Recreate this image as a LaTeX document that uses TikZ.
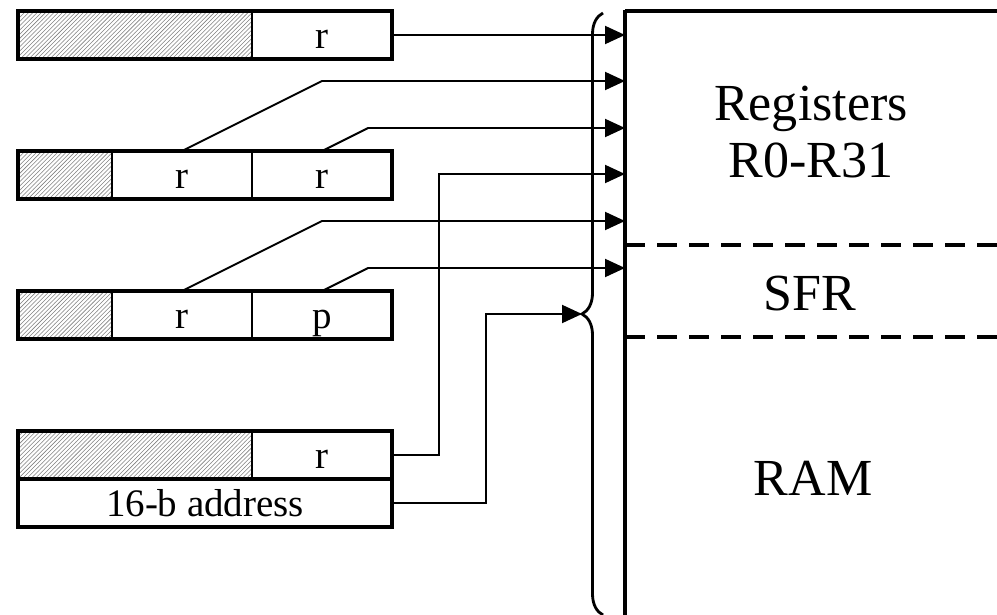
\documentclass[tikz,border=0pt]{standalone}
\usepackage{fontspec}
\setmainfont{Liberation Serif}
\usetikzlibrary{positioning,patterns,arrows.meta,decorations.pathreplacing}

\begin{document}
\begin{tikzpicture}[x=0.025cm,y=-0.025cm,
  field/.style={draw,line width=1.2pt,minimum height=1.2cm,minimum width=3.5cm,inner sep=0pt,outer sep=0pt,
    text height=0.7cm,text depth=0.05cm,font=\fontsize{27.7}{30}\selectfont},
  pad/.style={field,pattern=north east lines,pattern color=gray},
  outer/.style={line width=2.8pt},
  link/.style={line width=1.4pt,-{Triangle[length=0.5cm,width=0.45cm]}},
  sep/.style={line width=2.8pt,dash pattern=on 0.5cm off 0.3cm},
  big/.style={font=\fontsize{37}{40.5}\selectfont,align=center}]
\useasboundingbox (0,0) rectangle (997,615);

\node[pad,minimum width=5.85cm,anchor=north west] (p1) at (18,11) {};
\node[field,right=0pt of p1] (r1) {r};
\draw[outer] (p1.north west) rectangle (r1.south east);

\node[pad,minimum width=2.35cm,anchor=north west] (p2) at (18,151) {};
\node[field,right=0pt of p2] (r2a) {r};
\node[field,right=0pt of r2a] (r2b) {r};
\draw[outer] (p2.north west) rectangle (r2b.south east);

\node[pad,minimum width=2.35cm,anchor=north west] (p3) at (18,291) {};
\node[field,right=0pt of p3] (r3) {r};
\node[field,right=0pt of r3] (r3b) {p};
\draw[outer] (p3.north west) rectangle (r3b.south east);

\node[pad,minimum width=5.85cm,anchor=north west] (p4) at (18,431) {};
\node[field,right=0pt of p4] (r4) {r};
\node[field,minimum width=9.35cm,anchor=north west] (a4) at (p4.south west) {16-b address};
\draw[outer] (p4.north west) rectangle (r4.south east);
\draw[outer] (a4.north west) rectangle (a4.south east);

\draw[line width=2.8pt] (997,11) -- (625,11);
\draw[line width=2.2pt] (625,10) -- (625,615);
\draw[sep] (625,245) -- (997,245);
\draw[sep] (625,337) -- (997,337);
\node[big] (regs) at (811,132) {Registers\\R0-R31};
\node[big] (sfr) at (810,294) {SFR};
\node[big] (ram) at (813,478) {RAM};

\draw[decorate,decoration={brace,amplitude=0.525cm},line width=2pt] (603,615) -- (603,13);
\coordinate (tip) at (582,314);
\foreach \i/\y in {1/35,2/81,3/128,4/174,5/221,6/268}
  \coordinate (in\i) at (625,\y);

\draw[link] (r1.east) -- (in1);
\draw[link] (r2a.north) -- ++(140,-70) -- (in2);
\draw[link] (r2b.north) -- ++(46,-23) -- (in3);
\draw[link] (r4.east) -- ++(47,0) |- (in4);
\draw[link] (r3.north) -- ++(140,-70) -- (in5);
\draw[link] (r3b.north) -- ++(46,-23) -- (in6);
\draw[link] (a4.east) -- ++(94,0) |- (tip);
\end{tikzpicture}
\end{document}
